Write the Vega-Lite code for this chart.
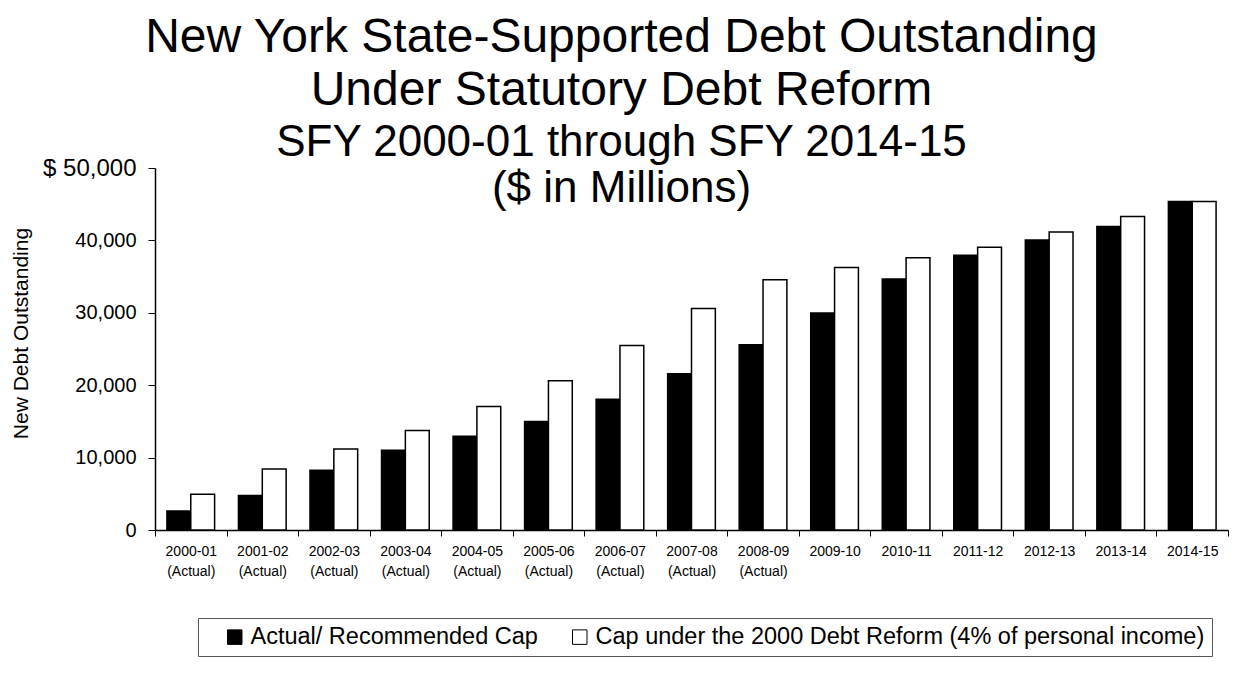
{
  "$schema": "https://vega.github.io/schema/vega-lite/v6.json",
  "width": 1073,
  "height": 362,
  "autosize": {"type": "none"},
  "padding": {"left": 155, "top": 168, "right": 14, "bottom": 147},
  "background": "white",
  "title": {
    "text": ["New York State-Supported Debt Outstanding", "Under Statutory Debt Reform"],
    "subtitle": ["SFY 2000-01 through SFY 2014-15", "($ in Millions)"],
    "font": "Liberation Sans",
    "fontSize": 48,
    "fontWeight": "normal",
    "lineHeight": 53,
    "color": "black",
    "subtitleFont": "Liberation Sans",
    "subtitleFontSize": 44,
    "subtitleLineHeight": 46,
    "subtitleColor": "black",
    "subtitlePadding": 6,
    "anchor": "middle",
    "frame": "group",
    "dx": -70,
    "offset": -55
  },
  "data": {
    "values": [
      {"year": "2000-01 (Actual)", "series": "Actual/ Recommended Cap", "value": 2630},
      {"year": "2000-01 (Actual)", "series": "Cap under the 2000 Debt Reform (4% of personal income)", "value": 4940},
      {"year": "2001-02 (Actual)", "series": "Actual/ Recommended Cap", "value": 4750},
      {"year": "2001-02 (Actual)", "series": "Cap under the 2000 Debt Reform (4% of personal income)", "value": 8440},
      {"year": "2002-03 (Actual)", "series": "Actual/ Recommended Cap", "value": 8250},
      {"year": "2002-03 (Actual)", "series": "Cap under the 2000 Debt Reform (4% of personal income)", "value": 11200},
      {"year": "2003-04 (Actual)", "series": "Actual/ Recommended Cap", "value": 11020},
      {"year": "2003-04 (Actual)", "series": "Cap under the 2000 Debt Reform (4% of personal income)", "value": 13740},
      {"year": "2004-05 (Actual)", "series": "Actual/ Recommended Cap", "value": 12950},
      {"year": "2004-05 (Actual)", "series": "Cap under the 2000 Debt Reform (4% of personal income)", "value": 17060},
      {"year": "2005-06 (Actual)", "series": "Actual/ Recommended Cap", "value": 14980},
      {"year": "2005-06 (Actual)", "series": "Cap under the 2000 Debt Reform (4% of personal income)", "value": 20600},
      {"year": "2006-07 (Actual)", "series": "Actual/ Recommended Cap", "value": 18070},
      {"year": "2006-07 (Actual)", "series": "Cap under the 2000 Debt Reform (4% of personal income)", "value": 25490},
      {"year": "2007-08 (Actual)", "series": "Actual/ Recommended Cap", "value": 21580},
      {"year": "2007-08 (Actual)", "series": "Cap under the 2000 Debt Reform (4% of personal income)", "value": 30610},
      {"year": "2008-09 (Actual)", "series": "Actual/ Recommended Cap", "value": 25590},
      {"year": "2008-09 (Actual)", "series": "Cap under the 2000 Debt Reform (4% of personal income)", "value": 34580},
      {"year": "2009-10", "series": "Actual/ Recommended Cap", "value": 29970},
      {"year": "2009-10", "series": "Cap under the 2000 Debt Reform (4% of personal income)", "value": 36240},
      {"year": "2010-11", "series": "Actual/ Recommended Cap", "value": 34670},
      {"year": "2010-11", "series": "Cap under the 2000 Debt Reform (4% of personal income)", "value": 37620},
      {"year": "2011-12", "series": "Actual/ Recommended Cap", "value": 37940},
      {"year": "2011-12", "series": "Cap under the 2000 Debt Reform (4% of personal income)", "value": 39050},
      {"year": "2012-13", "series": "Actual/ Recommended Cap", "value": 40060},
      {"year": "2012-13", "series": "Cap under the 2000 Debt Reform (4% of personal income)", "value": 41170},
      {"year": "2013-14", "series": "Actual/ Recommended Cap", "value": 41910},
      {"year": "2013-14", "series": "Cap under the 2000 Debt Reform (4% of personal income)", "value": 43290},
      {"year": "2014-15", "series": "Actual/ Recommended Cap", "value": 45370},
      {"year": "2014-15", "series": "Cap under the 2000 Debt Reform (4% of personal income)", "value": 45370}
    ]
  },
  "mark": {"type": "bar", "stroke": "black", "strokeWidth": 1.5},
  "encoding": {
    "x": {
      "field": "year",
      "type": "nominal",
      "sort": null,
      "scale": {"paddingInner": 0, "paddingOuter": 0},
      "axis": {
        "title": null,
        "labelAngle": 0,
        "labelExpr": "split(datum.label, ' ')",
        "labelFont": "Liberation Sans",
        "labelFontSize": 14,
        "labelLineHeight": 20,
        "labelColor": "black",
        "labelPadding": 8,
        "tickBand": "extent",
        "tickColor": "black",
        "tickSize": 6,
        "domainColor": "black",
        "domainWidth": 1.5,
        "grid": false
      }
    },
    "xOffset": {
      "field": "series",
      "type": "nominal",
      "sort": null,
      "scale": {"paddingInner": 0, "paddingOuter": 0.5}
    },
    "y": {
      "field": "value",
      "type": "quantitative",
      "scale": {"domain": [0, 50000], "nice": false},
      "axis": {
        "title": "New Debt Outstanding",
        "titleFont": "Liberation Sans",
        "titleFontSize": 21,
        "titleFontWeight": "normal",
        "titleColor": "black",
        "titlePadding": 11,
        "titleY": 165,
        "values": [0, 10000, 20000, 30000, 40000, 50000],
        "labelExpr": "datum.value == 50000 ? '$ 50,000' : format(datum.value, ',')",
        "labelFont": "Liberation Sans",
        "labelFontSize": {"condition": {"test": "datum.value == 50000", "value": 24}, "value": 20},
        "labelColor": "black",
        "labelPadding": 12,
        "tickColor": "black",
        "tickSize": 7,
        "domainColor": "black",
        "domainWidth": 1.5,
        "grid": false
      }
    },
    "color": {
      "field": "series",
      "type": "nominal",
      "sort": null,
      "scale": {"range": ["#000000", "#ffffff"]},
      "legend": {
        "title": "\u00a0",
        "titleOrient": "left",
        "titlePadding": 18,
        "titleFontSize": 22,
        "orient": "none",
        "direction": "horizontal",
        "legendX": 43,
        "legendY": 450,
        "padding": 7,
        "strokeColor": "#555555",
        "symbolType": "square",
        "symbolSize": 210,
        "symbolStrokeColor": "black",
        "symbolStrokeWidth": 1,
        "labelFont": "Liberation Sans",
        "labelFontSize": 23.5,
        "labelColor": "black",
        "labelLimit": 900,
        "columnPadding": 30,
        "labelOffset": 4
      }
    }
  },
  "config": {
    "view": {"stroke": null}
  }
}
